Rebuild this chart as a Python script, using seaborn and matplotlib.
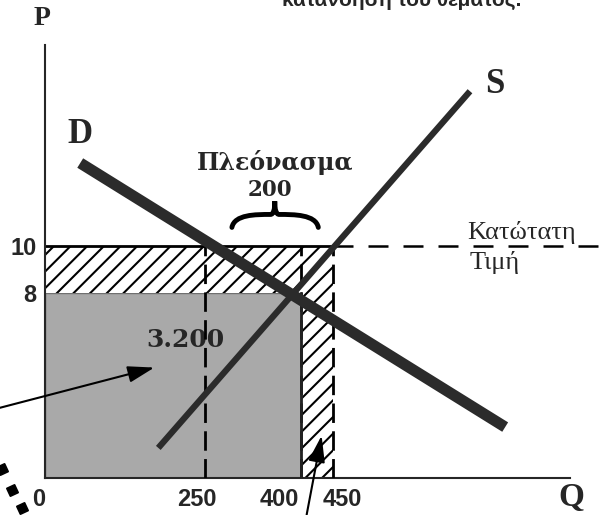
import numpy as np
import pandas as pd
import matplotlib
matplotlib.use("Agg")
import matplotlib.pyplot as plt
import matplotlib.patches as mpatches
from matplotlib.path import Path
from matplotlib.transforms import ScaledTranslation
import seaborn as sns

# curve end points (Q, P)
demand_q = [55, 719]
demand_p = [13.6, 2.2]
supply_q = [177, 664]
supply_p = [1.3, 16.7]

price_floor = 10
price_eq = 8
q_demanded = 250
q_eq = 400
q_supplied = 450

x_ticks = [0, 250, 400, 450]
x_tick_labels = ["0", "250", "400", "450"]
y_ticks = [8, 10]
y_tick_labels = ["8", "10"]

sns.set_style("white")
plt.rcParams["hatch.linewidth"] = 1.5
plt.rcParams["font.family"] = ["Liberation Serif", "DejaVu Serif"]

fig = plt.figure(figsize=(6.06, 5.15), dpi=100)
ax = fig.add_axes([0.0743, 0.0718, 0.866, 0.841])
ax.set_xlim(0, 820)
ax.set_ylim(0, 18.7)

# gray revenue rectangle and hatched areas
ax.add_patch(mpatches.Rectangle((0, 0), q_eq, price_eq, facecolor="#a9a9a9",
                                edgecolor="#6f6f6f", linewidth=1, zorder=1))
ax.add_patch(mpatches.Rectangle((0, price_eq), q_supplied, price_floor - price_eq,
                                facecolor="white", edgecolor="black", hatch="//",
                                linewidth=0, zorder=1))
ax.add_patch(mpatches.Rectangle((q_eq, 0), q_supplied - q_eq, price_eq,
                                facecolor="white", edgecolor="black", hatch="//",
                                linewidth=0, zorder=1))

# price floor line
ax.plot([0, q_supplied], [price_floor, price_floor], color="black", lw=2, zorder=2)
ax.plot([q_supplied, 880], [price_floor, price_floor], color="black", lw=1.8,
        dashes=(8, 6), clip_on=False, zorder=2)

# vertical dashed guides
for q in [q_demanded, q_eq, q_supplied]:
    ax.plot([q, q], [0, price_floor], color="black", lw=2, dashes=(7, 3), zorder=3)
ax.plot([q_eq, q_eq], [0, price_eq], color="#222222", lw=2, zorder=3)

# demand and supply
df = pd.DataFrame({"Q": demand_q + supply_q, "P": demand_p + supply_p,
                   "curve": ["D", "D", "S", "S"]})
sns.lineplot(data=df[df.curve == "D"], x="Q", y="P", color="#2b2b2b", lw=8,
             solid_capstyle="butt", ax=ax, zorder=4)
sns.lineplot(data=df[df.curve == "S"], x="Q", y="P", color="#2b2b2b", lw=4.5,
             solid_capstyle="butt", ax=ax, zorder=4)

# axes styling
sns.despine(ax=ax)
ax.spines["left"].set_linewidth(1.5)
ax.spines["bottom"].set_linewidth(1.5)
ax.set_xlabel("")
ax.set_ylabel("")
ax.set_xticks(x_ticks)
ax.set_xticklabels(x_tick_labels, family="Liberation Sans", fontweight="bold", fontsize=17)
ax.set_yticks(y_ticks)
ax.set_yticklabels(y_tick_labels, family="Liberation Sans", fontweight="bold", fontsize=17)
ax.tick_params(axis="x", length=0, pad=7)
ax.tick_params(axis="y", length=0, pad=6)
# labels in the sketch sit a little off their guide lines
for lab, dx in zip(ax.get_xticklabels(), [-6, -8, -22, 9]):
    lab.set_transform(lab.get_transform() + ScaledTranslation(dx / 100, 0, fig.dpi_scale_trans))

# labels
ax.text(-5, 19.85, "P", fontsize=20, fontweight="bold", ha="center", va="center", clip_on=False)
ax.text(823, -0.82, "Q", fontsize=24, fontweight="bold", ha="center", va="center", clip_on=False)
ax.text(55, 14.85, "D", fontsize=25, fontweight="bold", ha="center", va="center")
ax.text(703, 17.0, "S", fontsize=25, fontweight="bold", ha="center", va="center")
ax.text(360, 13.64, "Πλεόνασμα", family="DejaVu Serif", fontsize=17, fontweight="bold",
        ha="center", va="center")
ax.text(352, 12.45, "200", family="DejaVu Serif", fontsize=15.5, fontweight="bold",
        ha="center", va="center")
ax.text(220, 5.95, "3.200", family="DejaVu Serif", fontsize=18, fontweight="bold",
        ha="center", va="center", zorder=2.5)
ax.text(745, 10.62, "Κατώτατη", fontsize=19, ha="center", va="center")
ax.text(702, 9.3, "Τιμή", fontsize=19, ha="center", va="center")

# brace over the surplus
xl, xr, xm = 292, 427, 359
yb, ym, yt = 10.82, 11.38, 11.95
verts = [(xl, yb), (xl + 4, ym), (xm - 30, ym), (xm - 7, ym),
         (xm - 2, ym), (xm, ym + 0.2), (xm, yt),
         (xm, ym + 0.2), (xm + 2, ym), (xm + 7, ym),
         (xm + 30, ym), (xr - 4, ym), (xr, yb)]
codes = [Path.MOVETO] + [Path.CURVE4] * 12
ax.add_patch(mpatches.PathPatch(Path(verts, codes), facecolor="none",
                                edgecolor="black", lw=3.5, capstyle="round"))

# arrows
arrow_style = dict(arrowstyle="-|>,head_length=0.9,head_width=0.28", color="black",
                   lw=1.5, mutation_scale=18)
ax.annotate("", xy=(175, 4.8), xytext=(-75, 3.0), annotation_clip=False,
            arrowprops=arrow_style, zorder=6)
ax.annotate("", xy=(433, 1.95), xytext=(408, -1.7), annotation_clip=False,
            arrowprops=arrow_style, zorder=6)

# cut-off caption at the top and dotted mark at the bottom left
fig.text(0.663, 0.988, "κατανόηση του θέματος.", family="Liberation Sans",
         fontweight="bold", fontsize=15, ha="center", va="baseline")
fig.add_artist(plt.Line2D([0.004, 0.02, 0.036], [0.089, 0.049, 0.014],
                          transform=fig.transFigure, color="black",
                          marker=(4, 0, 70), markersize=9, linestyle="none"))

fig.savefig("out.png", dpi=100)
